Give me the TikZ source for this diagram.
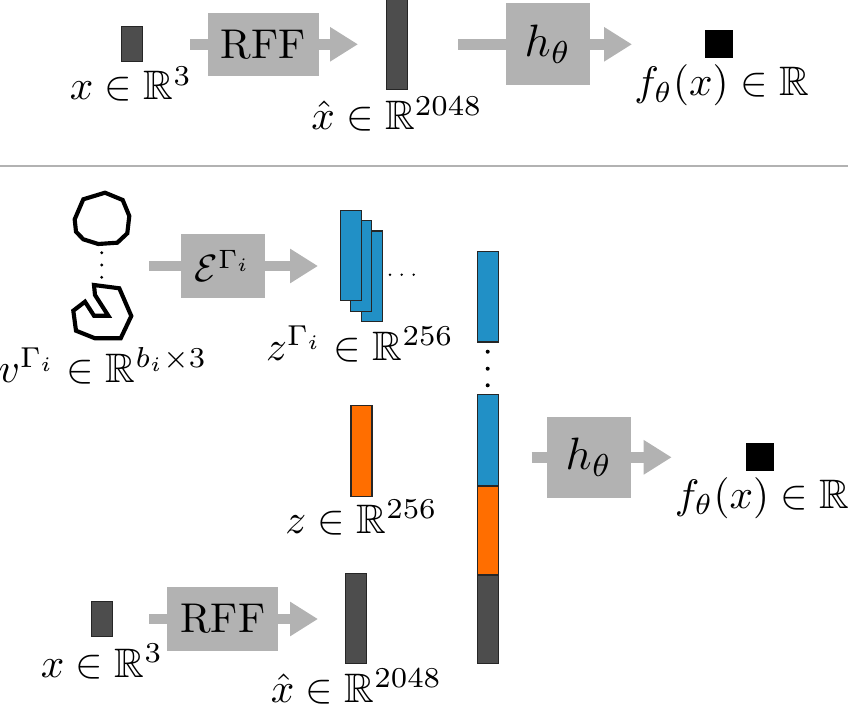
\documentclass[tikz,border=0pt]{standalone}
\usepackage{amsmath,amssymb}
\usetikzlibrary{arrows.meta}
\definecolor{flowgray}{HTML}{B2B2B2}
\definecolor{bardark}{HTML}{4D4D4D}
\definecolor{barblue}{HTML}{2190C6}
\definecolor{barorange}{HTML}{FF6E00}
\tikzset{
  x=0.75pt, y=-0.75pt,
  flowarrow/.style={draw=flowgray, line width=8pt,
    -{Triangle[length=21pt,width=24.5pt]}},
  opbox/.style={fill=flowgray, inner sep=0pt},
  bar/.style={draw=black!85, line width=0.9pt, inner sep=0pt, minimum width=15.75pt},
  tallbar/.style={bar, minimum height=68pt},
  shortbar/.style={bar, minimum height=26.5pt},
  outsq/.style={fill=black, inner sep=0pt, minimum size=20.75pt},
  lab/.style={anchor=base, inner sep=0pt, scale=3.09},
  tinydot/.style={circle, fill=black, inner sep=0pt, minimum size=2.4pt},
  smalldot/.style={circle, fill=black, inner sep=0pt, minimum size=2pt},
  bigdot/.style={circle, fill=black, inner sep=0pt, minimum size=3pt},
  contour/.style={draw=black, line width=3.1pt, line join=miter},
  % text inside an operator block, scaled separately from the block itself
  optext/.style={inner sep=0pt, scale=#1},
}
\begin{document}
\begin{tikzpicture}
\useasboundingbox (0,0) rectangle (848,706);

% Plain network: input, feature mapping, MLP, output
\coordinate (a1s) at (190,44.3);
\coordinate (a1e) at (358,44.3);
\coordinate (a2s) at (458,44.3);
\coordinate (a2e) at (632,44.3);
\draw[flowarrow] (a1s) -- (a1e);
\draw[flowarrow] (a2s) -- (a2e);
\node[opbox, minimum width=83.3pt, minimum height=47.6pt, label={[optext=3.12]center:RFF}] (rff1) at (263.3,44.3) {};
\node[opbox, minimum width=62.8pt, minimum height=61.6pt, label={[optext=3.4]center:$h_\theta$}] (h1) at (548,44) {};
\node[shortbar, fill=bardark] (x1) at (131.7,44) {};
\node[tallbar, fill=bardark] (xh1) at (396.8,44.5) {};
\node[outsq] (o1) at (719,44) {};
\node[lab] (lx1) at (131,100) {$x\in\mathbb{R}^3$};
\node[lab] (lxh1) at (397,130) {$\hat{x}\in\mathbb{R}^{2048}$};
\node[lab] (lo1) at (721.5,96) {$f_\theta(x)\in\mathbb{R}$};

% Separator between the two networks
\coordinate (sepl) at (0,166);
\coordinate (sepr) at (848,166);
\draw[flowgray, line width=1pt] (sepl) -- (sepr);

% Boundary polygons
\draw[contour] (105,192.7) -- (122.7,200) -- (129.3,216) -- (127.3,233.3) -- (117.3,242.7)
  -- (98.3,244) -- (83.3,239.3) -- (76,231.7) -- (74.7,219.3) -- (83.3,199.3) -- cycle;
\draw[contour] (94,285) -- (119.3,288.3) -- (131.3,316) -- (120.7,338.3) -- (95,338.3)
  -- (76,330.7) -- (73.3,310.7) -- (85,301.7) -- (94,315.7) -- (108.3,315.7) -- (95,295) -- cycle;
\node[tinydot] (d1) at (101.7,252.7) {};
\node[tinydot] (d2) at (101.7,265) {};
\node[tinydot] (d3) at (101.7,277.3) {};

% Shape encoder
\coordinate (a3s) at (149,266);
\coordinate (a3e) at (318,266);
\draw[flowarrow] (a3s) -- (a3e);
\node[opbox, minimum width=62.5pt, minimum height=47.6pt, label={[optext=2.85]center:$\mathcal{E}^{\Gamma_i}$}] (enc) at (223,266) {};
\node[tallbar, fill=barblue] (z3) at (371.7,276.3) {};
\node[tallbar, fill=barblue] (z2) at (361.3,266) {};
\node[tallbar, fill=barblue] (z1) at (350.8,255.5) {};
\node[smalldot] (e1) at (390,274.7) {};
\node[smalldot] (e2) at (401.7,274.7) {};
\node[smalldot] (e3) at (413.7,274.7) {};
\node[lab] (lv) at (103,382) {$v^{\Gamma_i}\in\mathbb{R}^{b_i\times 3}$};
\node[lab] (lz) at (360,360.7) {$z^{\Gamma_i}\in\mathbb{R}^{256}$};

% Latent code
\node[tallbar, fill=barorange] (zc) at (361.5,451) {};
\node[lab] (lzc) at (361.5,533) {$z\in\mathbb{R}^{256}$};

% Positional input of the conditioned network
\coordinate (a4s) at (149,619);
\coordinate (a4e) at (318,619);
\draw[flowarrow] (a4s) -- (a4e);
\node[opbox, minimum width=83.3pt, minimum height=47.6pt, label={[optext=3.12]center:RFF}] (rff2) at (222.7,619) {};
\node[shortbar, fill=bardark] (x2) at (102,619) {};
\node[tallbar, fill=bardark] (xh2) at (356,618.5) {};
\node[lab] (lx2) at (102,677) {$x\in\mathbb{R}^3$};
\node[lab] (lxh2) at (356.5,702.5) {$\hat{x}\in\mathbb{R}^{2048}$};

% Concatenated vector
\node[tallbar, fill=barblue] (c0) at (487.7,296.7) {};
\node[bigdot] (f1) at (487.7,351.7) {};
\node[bigdot] (f2) at (487.7,368.7) {};
\node[bigdot] (f3) at (487.7,385.3) {};
\node[tallbar, fill=barblue] (c1) at (487.7,440) {};
\node[tallbar, fill=barorange, minimum height=66.5pt] (c2) at (487.7,530.5) {};
\node[tallbar, fill=bardark, minimum height=66.5pt] (c3) at (487.7,619.5) {};

% Conditioned MLP and output
\coordinate (a5s) at (531.7,457.3);
\coordinate (a5e) at (671.7,457.3);
\draw[flowarrow] (a5s) -- (a5e);
\node[opbox, minimum width=62.8pt, minimum height=60.4pt, label={[optext=3.4]center:$h_\theta$}] (h2) at (589,457.3) {};
\node[outsq] (o2) at (760,457.2) {};
\node[lab] (lo2) at (762,508) {$f_\theta(x)\in\mathbb{R}$};
\end{tikzpicture}
\end{document}
